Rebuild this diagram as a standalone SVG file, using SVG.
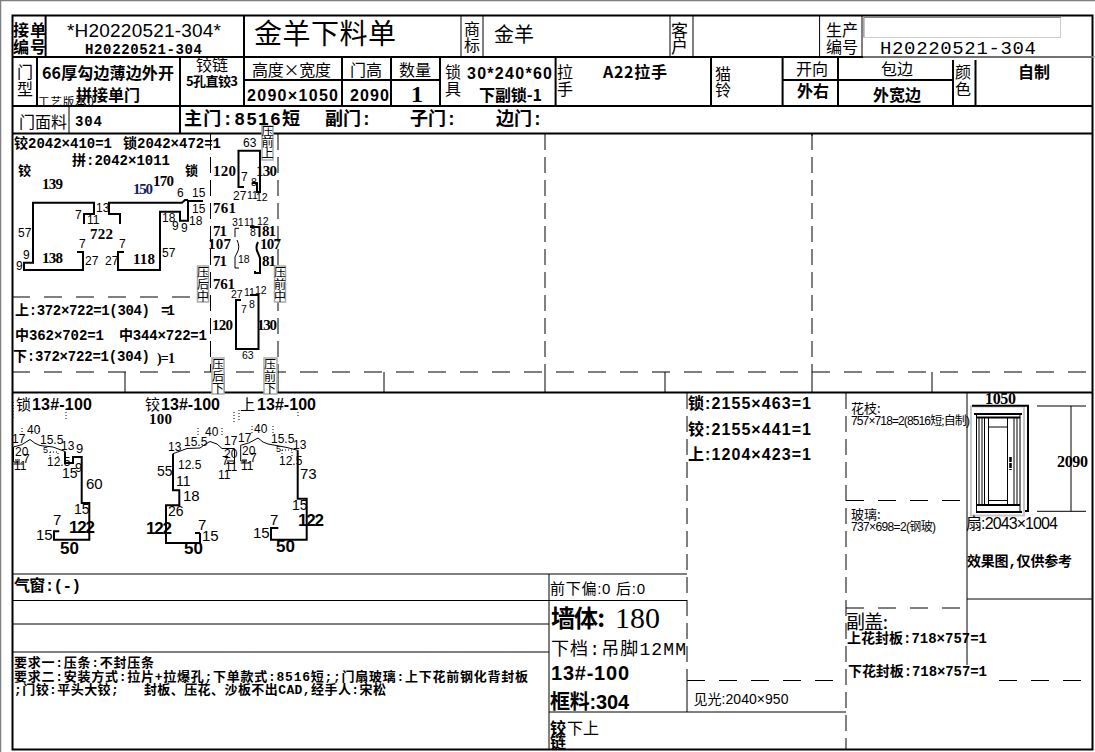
<svg xmlns="http://www.w3.org/2000/svg" width="1095" height="752" viewBox="0 0 1095 752">
<style>
text{fill:#000;white-space:pre}
.n{font-family:"Noto Sans CJK SC",sans-serif}
.nb{font-family:"Noto Sans CJK SC",sans-serif;font-weight:700}
.s{font-family:"Liberation Mono","Noto Sans CJK SC",monospace;font-weight:700}
.m{font-family:"Liberation Mono","Noto Sans CJK SC",monospace}
.sr{font-family:"Liberation Serif","Noto Sans CJK SC",serif}
.sb{font-family:"Liberation Serif","Noto Sans CJK SC",serif;font-weight:700}
.a{font-family:"Liberation Sans","Noto Sans CJK SC",sans-serif}
.ab{font-family:"Liberation Sans","Noto Sans CJK SC",sans-serif;font-weight:700}
.t12{font-size:12px}.t13{font-size:13px}.t14{font-size:14px}.t15{font-size:15px}.t16{font-size:16px}
.l1{stroke:#000;stroke-width:1;fill:none}
.l2{stroke:#000;stroke-width:2;fill:none}
.dh{stroke:#000;stroke-width:1;fill:none;stroke-dasharray:18 14}
.dv{stroke:#000;stroke-width:1;fill:none;stroke-dasharray:16 7}
.dot{stroke:#000;stroke-width:1;fill:none;stroke-dasharray:1 2}
.p{stroke:#000;stroke-width:2;fill:none}
.pt{stroke:#000;stroke-width:1;fill:none}
.tag{fill:#fff;stroke:#aaa;stroke-width:1.5}
.g{fill:#fff;stroke:#c8c8c8;stroke-width:2}
</style>
<rect width="1095" height="752" fill="#fff"/>
<path d="M0.5 752V0.5H1095" fill="none" stroke="#808080" stroke-width="1.5"/>

<g id="grid">
<rect x="12.5" y="15.5" width="1080" height="734" class="l2"/>
<path class="l2" d="M12 57H1093M12 106H1093M12 133.500H1093M12 392.500H1093M244 80H440M782.600 80H953M45.600 15V57M244 15V106M37 57V106M180 57V133.500M342 57V106M391 57V106M440 57V106M555.600 57V106M711 57V106M782.600 57V106M838 57V106M953 60V106M975.500 60V106"/>
<path class="l1" d="M461 15V57M483 15V57M670 15V57M693 15V57M819.600 15V57M862 15V57M69 106V133.500"/>
<path class="l1" d="M125 372V392M224 372V392M278 372V392M384 372V392M545 372V392M665 372V392M812 372V392M932 372V392M812 133V136M12 574H687M12 600.500H687M12 624H549M12 652H549M549 574V750M549 712H846M687 680V712M967 393V665M967 599H1093"/>
<path class="dh" d="M12 372H1093M12 297H197M687 680.500H846M999 680.500H1093M846 500.500H962M846 608H962"/>
<path class="dv" d="M545 134V372M812 134V372M210.500 134V372M278 134V372M687 393V680M846 393V750"/>
</g>

<g id="header-row1">
<text class="nb t16" x="13" y="36" textLength="33">接单</text>
<text class="nb t16" x="13" y="53" textLength="33">编号</text>
<text class="a" font-size="19" x="67" y="37" textLength="154">*H20220521-304*</text>
<text class="s t14" x="85" y="54" textLength="117">H20220521-304</text>
<text class="n" font-size="28" x="254" y="44" textLength="142">金羊下料单</text>
<text class="n t16" x="464" y="35">商</text><text class="n t16" x="464" y="51">标</text>
<text class="n" font-size="20" x="494" y="42">金羊</text>
<text class="n" font-size="17" x="671" y="37">客</text><text class="n" font-size="17" x="671" y="53">户</text>
<text class="n t16" x="826" y="36">生产</text><text class="n t16" x="826" y="53">编号</text>
<rect x="863.500" y="17.500" width="197" height="20" fill="#fff" stroke="#ccc" stroke-width="1"/>
<path d="M864 17.500H1061M864 17.500V37" stroke="#888" fill="none"/>
<text class="m" font-size="19" x="880" y="54" textLength="156">H20220521-304</text>
<path d="M863 57H1095" stroke="#999" stroke-width="1.500"/>
</g>

<g id="header-row2">
<text class="n t16" x="17" y="78">门</text><text class="n t16" x="17" y="95">型</text>
<text class="nb t16" x="42" y="79" textLength="132">66厚勾边薄边外开</text>
<text class="nb t16" x="76" y="101">拼接单门</text>
<text class="n" font-size="11.500" x="38" y="106" textLength="56">工艺版本0</text>
<text class="n t16" x="196" y="71">铰链</text>
<text class="nb" font-size="13" x="186" y="86" textLength="52">5孔直铰3</text>
<text class="n t16" x="252" y="76" textLength="79">高度×宽度</text>
<text class="n t16" x="350" y="76">门高</text>
<text class="n t16" x="399" y="76">数量</text>
<text class="ab t16" x="247" y="101" textLength="91">2090×1050</text>
<text class="ab t16" x="350" y="101" textLength="39">2090</text>
<text class="sb" font-size="24" x="411" y="102">1</text>
<text class="n t16" x="445" y="78">锁</text><text class="n t16" x="445" y="95">具</text>
<text class="ab t16" x="467" y="79" textLength="85">30*240*60</text>
<text class="nb t16" x="479" y="101" textLength="63">下副锁-1</text>
<text class="n t16" x="557" y="78">拉</text><text class="n t16" x="557" y="95">手</text>
<text class="nb t16" x="603" y="78" textLength="64">A22拉手</text>
<text class="n t16" x="715" y="80">猫</text><text class="n t16" x="715" y="96">铃</text>
<text class="n t16" x="796" y="75">开向</text>
<text class="n t16" x="881" y="75">包边</text>
<text class="nb t16" x="797" y="97">外右</text>
<text class="nb t16" x="873" y="101">外宽边</text>
<text class="n t16" x="955" y="78">颜</text><text class="n t16" x="955" y="95">色</text>
<text class="nb t16" x="1018" y="78">自制</text>
</g>

<g id="header-row3">
<text class="n t16" x="19" y="128">门面料</text>
<text class="s t14" x="75" y="126" textLength="27">304</text>
<text class="s" font-size="18" x="184" y="125" textLength="116">主门:8516短</text>
<text class="s" font-size="18" x="325" y="125">副门:</text>
<text class="s" font-size="18" x="410" y="125">子门:</text>
<text class="s" font-size="18" x="496" y="125">边门:</text>
</g>

<g id="profile-section">
<text class="s t14" x="14" y="148" textLength="98">铰2042×410=1</text>
<text class="s t14" x="123" y="148" textLength="98">锁2042×472=1</text>
<text class="s t14" x="72" y="165" textLength="98">拼:2042×1011</text>
<text class="nb" font-size="13" x="18" y="175">铰</text>
<text class="nb" font-size="13" x="185" y="175">锁</text>
<g class="sb t15">
<text x="42" y="189" textLength="21">139</text>
<text x="133" y="194" textLength="20" style="fill:#102060">150</text>
<text x="153" y="186" textLength="21">170</text>
<text x="90" y="239" textLength="23">722</text>
<text x="42" y="263" textLength="21">138</text>
<text x="133" y="264" textLength="22">118</text>
<text x="213" y="176" textLength="23">120</text>
<text x="256" y="176" textLength="21">130</text>
<text x="213" y="213" textLength="23">761</text>
<text x="213" y="236" textLength="14">71</text>
<text x="208" y="249" textLength="23">107</text>
<text x="213" y="266" textLength="14">71</text>
<text x="262" y="236" textLength="14">81</text>
<text x="260" y="249" textLength="21">107</text>
<text x="262" y="266" textLength="14">81</text>
<text x="213" y="289" textLength="22">761</text>
<text x="212" y="330" textLength="21">120</text>
<text x="257" y="330" textLength="20">130</text>
</g>
<g class="a t12">
<text x="177" y="197">6</text><text x="192" y="197">15</text><text x="192" y="213">15</text><text x="189" y="225">18</text>
<text x="96" y="212">13</text><text x="75" y="219">7</text><text x="87" y="224">11</text>
<text x="162" y="222">18</text><text x="172" y="230">9</text><text x="181" y="232">9</text>
<text x="18" y="237">57</text><text x="162" y="257">57</text>
<text x="79" y="248">7</text><text x="119" y="248">7</text>
<text x="23" y="259">9</text><text x="16" y="270">9</text>
<text x="85" y="265">27</text><text x="105" y="265">27</text>
<text x="243" y="147">63</text><text x="241" y="181">7</text>
<text x="233" y="200">27</text>
</g>
<g class="a" font-size="10.500">
<text x="251" y="186">8</text><text x="247" y="199">11</text><text x="256" y="201">12</text>
<text x="232" y="226">31</text><text x="244" y="226">11</text><text x="257" y="225">12</text>
<text x="250" y="236">8</text><text x="238" y="263">18</text>
<text x="231" y="298">27</text><text x="244" y="296">11</text><text x="255" y="294">12</text>
<text x="241" y="313">7</text><text x="249" y="308">8</text><text x="242" y="359">63</text>
</g>
<path class="p" d="M77 252H83V270H24V262.700H33V202.700H94V214H84V224"/>
<path class="p" d="M120 224V214H109V202.700H182L185 200H188M188 201V220.700H180V211.700H160V270H118V252H124"/>
<path class="p" d="M188 201H203" stroke-width="2.500"/>
<path class="p" d="M244 187H238.500V150.700H260V192H257V183H252" stroke-width="2.200"/>
<path class="pt" d="M239 228.300H235V237M237 240Q240.500 247 237 253L235 257V268H239"/>
<path class="p" d="M250 227H259.500V237M258 242Q255 248 258 253L260 258V273H255V271"/>
<path class="p" d="M241 300H236V349H258.500V295H250"/>
</g>

<g id="panel-list">
<text class="s t14" x="15" y="315" textLength="135">上:372×722=1(304)</text>
<text class="s t14" x="161" y="315" textLength="14">=1</text>
<text class="s t14" x="15" y="340" textLength="89">中362×702=1</text>
<text class="s t14" x="119" y="340" textLength="88">中344×722=1</text>
<text class="s t14" x="13" y="361" textLength="137">下:372×722=1(304)</text>
<text class="sb t14" x="157" y="363" textLength="18">)=1</text>
</g>

<g id="tag-front-top"><rect class="tag" x="262" y="126" width="11" height="34"/><text class="n t12" x="261.500" y="136">压</text><text class="n t12" x="261.500" y="147">前</text><text class="n t12" x="261.500" y="158">上</text></g>
<g id="tag-back-mid"><rect class="tag" x="197.500" y="266" width="11" height="36"/><text class="n t12" x="197" y="277">压</text><text class="n t12" x="197" y="289">后</text><text class="n t12" x="197" y="301">中</text></g>
<g id="tag-front-mid"><rect class="tag" x="274.500" y="266" width="11" height="36"/><text class="n t12" x="274" y="277">压</text><text class="n t12" x="274" y="289">前</text><text class="n t12" x="274" y="301">中</text></g>
<g id="tag-back-low"><rect class="tag" x="212" y="358" width="12" height="36"/><text class="n t12" x="212" y="369">压</text><text class="n t12" x="212" y="381">后</text><text class="n t12" x="212" y="393">下</text></g>
<g id="tag-front-low"><rect class="tag" x="264" y="358" width="13" height="36"/><text class="n t12" x="264" y="369">压</text><text class="n t12" x="264" y="381">前</text><text class="n t12" x="264" y="393">下</text></g>

<g id="frame-lock">
<text class="n" font-size="15" x="16" y="410">锁</text>
<text class="ab t16" x="32" y="410" textLength="60">13#-100</text>
<path class="dot" d="M13 402V419M66 409V419M22 428V434M39 428V434M50 452H58V458M50 452V458"/>
<path class="pt" d="M13.500 447Q22 446 30 439.500Q35 444 40 445.500L53 447L65 451.500M13.500 447V462H20M15 460H20M13.500 464H23"/>
<path class="p" d="M65 451.500V463H73V457H81.700V503H89.300V539.700H54V531.300H59.300"/>
<g class="a t12"><text x="12" y="443">17</text><text x="27" y="434">40</text><text x="40" y="444">15.5</text><text x="61" y="450">13</text><text x="15" y="456">20</text><text x="23" y="463">7</text><text x="14" y="470">11</text><text x="43" y="453" font-size="9">5</text><text x="47" y="466">12.5</text><text x="76" y="453" font-size="13">9</text><text x="75" y="472" font-size="13">9</text></g>
<g class="a"><text x="62" y="478" font-size="14">15</text><text x="86" y="489" font-size="15">60</text><text x="74" y="514" font-size="14">15</text><text x="53" y="525" font-size="15">7</text><text x="36" y="540" font-size="15">15</text></g>
<text class="ab" font-size="17" x="69" y="533" textLength="26">122</text><text class="ab" font-size="17" x="60" y="554">50</text>
</g>

<g id="frame-hinge">
<text class="n" font-size="15" x="145" y="410">铰</text>
<text class="ab t16" x="161" y="410" textLength="59">13#-100</text>
<text class="sb t15" x="149" y="424" textLength="23">100</text>
<path class="dot" d="M198 428V437M222 428V437"/>
<path class="pt" d="M173 453.700L187 448.500L200 448Q205 444 210 441.500Q218 443 222 448.500H234.500V463.500H227M227 461H234"/>
<path class="p" d="M200 533V543H166V505.300H179.300V490.300H173V453.700"/>
<path class="p" d="M195 533H200"/>
<g class="a t12"><text x="168" y="451">13</text><text x="184" y="446">15.5</text><text x="205" y="436">40</text><text x="224" y="445">17</text><text x="224" y="458">20</text><text x="222" y="465">7</text><text x="225" y="471">11</text><text x="218" y="479">11</text><text x="178" y="469">12.5</text></g>
<g class="a"><text x="157" y="476" font-size="14">55</text><text x="176" y="486" font-size="14">11</text><text x="183" y="501" font-size="15">18</text><text x="168" y="516" font-size="14">26</text><text x="198" y="530" font-size="15">7</text><text x="202" y="541" font-size="15">15</text></g>
<text class="ab" font-size="17" x="146" y="534" textLength="26">122</text><text class="ab" font-size="17" x="184" y="554">50</text>
</g>

<g id="frame-top">
<text class="n" font-size="15" x="240" y="410">上</text>
<text class="ab t16" x="257" y="410" textLength="59">13#-100</text>
<path class="dot" d="M234 412V422M239 410V420M298 412V418M252 426V433M273 426V433M282 450H292V457M282 450V457"/>
<path class="pt" d="M240.700 445.300Q249 444 258 438Q263 443 268 444L287 447.500L297.700 450.300M240.700 445.300V461H247M242 460H247M240.700 463H250"/>
<path class="p" d="M297.700 450.300V498.700H306.700V539.700H271V528H278.300"/>
<g class="a t12"><text x="238" y="442">17</text><text x="254" y="433">40</text><text x="271" y="443">15.5</text><text x="293" y="449">13</text><text x="242" y="455">20</text><text x="250" y="462">7</text><text x="241" y="470">11</text><text x="276" y="452" font-size="9">5</text><text x="279" y="465">12.5</text></g>
<g class="a"><text x="300" y="479" font-size="15">73</text><text x="292" y="510" font-size="14">15</text><text x="270" y="525" font-size="15">7</text><text x="253" y="538" font-size="15">15</text></g>
<text class="ab" font-size="17" x="298" y="526" textLength="26">122</text><text class="ab" font-size="17" x="276" y="552">50</text>
</g>

<g id="leaf-sizes">
<text class="ab t16" x="688" y="409" textLength="123">锁:2155×463=1</text>
<text class="ab t16" x="688" y="435" textLength="123">铰:2155×441=1</text>
<text class="ab t16" x="688" y="460" textLength="123">上:1204×423=1</text>
<text class="n" font-size="13" x="851" y="413">花枝:</text>
<text class="a t12" x="851" y="425" textLength="119">757×718=2(8516短;自制)</text>
<text class="n" font-size="13" x="851" y="519">玻璃:</text>
<text class="a t12" x="851" y="531" textLength="85">737×698=2(钢玻)</text>
</g>

<g id="door">
<text class="sb t16" x="985" y="404" textLength="31">1050</text>
<rect class="g" x="971" y="406.500" width="53" height="109"/>
<path class="l2" d="M972 405.700H1028V511H1025"/>
<path class="l1" d="M1037 406H1086M1037 511.300H1086M1071 406V511.300"/>
<path class="l2" d="M974 414H1022M977 417.500H1020M976 512H1022M976 505H1020"/>
<path class="l1" d="M976.500 414V512M979 417V505M982 417V505M984.500 417V505M988.500 417V505M1007.500 417V505M1014 417V505M1017 417V505M1020 414V512M989 427H1007M989 500.500H1007"/>
<path d="M1010.500 457V470" stroke="#000" stroke-width="2.500" stroke-dasharray="5 1"/>
<text class="sb t16" x="1057" y="467" textLength="31">2090</text>
<text class="a t16" x="966" y="529" textLength="92">扇:2043×1004</text>
<text class="s t14" x="967" y="566" textLength="105">效果图,仅供参考</text>
</g>

<g id="notes">
<text class="s t16" x="14" y="591" textLength="67">气窗:(-)</text>
<text class="s t13" x="14" y="667" textLength="140">要求一:压条:不封压条</text>
<text class="s t13" x="14" y="681" textLength="514">要求二:安装方式:拉片+拉爆孔;下单款式:8516短;;门扇玻璃:上下花前钢化背封板</text>
<text class="s t13" x="14" y="694" textLength="372">;门铰:平头大铰;   封板、压花、沙板不出CAD,经手人:宋松</text>
</g>

<g id="summary">
<text class="a" font-size="15" x="550" y="594" textLength="95">前下偏:0 后:0</text>
<text class="nb" font-size="24" x="551" y="627" textLength="54">墙体:</text>
<text class="sr" font-size="30" x="615" y="628" textLength="45">180</text>
<text class="m" font-size="18" x="551" y="655" textLength="135">下档:吊脚12MM</text>
<text class="ab" font-size="20" x="551" y="680" textLength="78">13#-100</text>
<text class="ab" font-size="20" x="550" y="709" textLength="79">框料:304</text>
<text class="nb t16" x="550" y="734">铰</text><text class="n t16" x="567" y="734">下上</text>
<text class="nb t16" x="550" y="748">链</text>
<text class="a" font-size="14" x="693.500" y="704" textLength="95">见光:2040×950</text>
<text class="n" font-size="19" x="846" y="629" textLength="42">副盖:</text>
<text class="s t14" x="847" y="643" textLength="140">上花封板:718×757=1</text>
<text class="s t14" x="848" y="676" textLength="139">下花封板:718×757=1</text>
</g>
</svg>
